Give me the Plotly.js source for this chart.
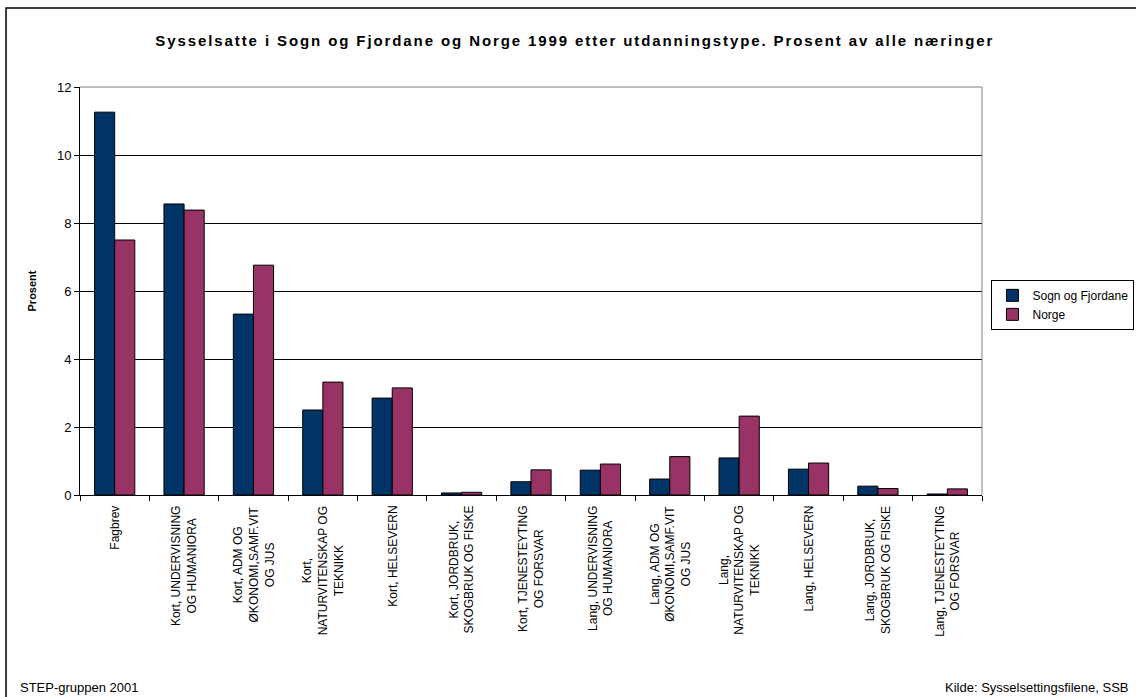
<!DOCTYPE html>
<html>
<head>
<meta charset="utf-8">
<script src="https://cdn.plot.ly/plotly-3.0.1.min.js"></script>
<style>
html,body{margin:0;padding:0;background:#fff;}
#chart{width:1136px;height:697px;}
.gtitle{letter-spacing:1.9px;}
</style>
</head>
<body>
<div id="chart"></div>
<script>
const categories = [
  "Fagbrev",
  "Kort, UNDERVISNING<br>OG HUMANIORA",
  "Kort, ADM OG<br>ØKONOMI,SAMF.VIT<br>OG JUS",
  "Kort,<br>NATURVITENSKAP OG<br>TEKNIKK",
  "Kort, HELSEVERN",
  "Kort, JORDBRUK,<br>SKOGBRUK OG FISKE",
  "Kort, TJENESTEYTING<br>OG FORSVAR",
  "Lang, UNDERVISNING<br>OG HUMANIORA",
  "Lang, ADM OG<br>ØKONOMI,SAMF.VIT<br>OG JUS",
  "Lang,<br>NATURVITENSKAP OG<br>TEKNIKK",
  "Lang, HELSEVERN",
  "Lang, JORDBRUK,<br>SKOGBRUK OG FISKE",
  "Lang, TJENESTEYTING<br>OG FORSVAR"
];
const sognValues  = [11.26, 8.56, 5.32, 2.50, 2.85, 0.06, 0.39, 0.73, 0.47, 1.09, 0.76, 0.26, 0.03];
const norgeValues = [7.50, 8.38, 6.76, 3.32, 3.15, 0.08, 0.74, 0.91, 1.13, 2.32, 0.94, 0.19, 0.18];
const yTicks = [0, 2, 4, 6, 8, 10, 12];

const data = [
  {type:'bar', name:'Sogn og Fjordane', x:categories, y:sognValues,
   marker:{color:'#003366', line:{color:'#000', width:1}}},
  {type:'bar', name:'Norge', x:categories, y:norgeValues,
   marker:{color:'#993366', line:{color:'#000', width:1}}}
];

const labelAnnotations = categories.map(c => ({
  text:c, x:c, xref:'x', y:0, yref:'paper', yshift:-9,
  xanchor:'center', yanchor:'top', textangle:-90, align:'center',
  showarrow:false, font:{size:12}
}));

const layout = {
  width:1136, height:697,
  paper_bgcolor:'#fff', plot_bgcolor:'#fff',
  font:{family:'Liberation Sans, Arial, sans-serif', color:'#000', size:12},
  margin:{l:80, r:154, t:87, b:202, autoexpand:false},
  title:{text:'<b>Sysselsatte i Sogn og Fjordane og Norge 1999 etter utdanningstype. Prosent av alle næringer</b>',
         font:{size:15, color:'#000'}, x:0.506, xanchor:'center', y:0.942, yanchor:'middle'},
  barmode:'group', bargap:0.42, bargroupgap:0,
  showlegend:true,
  legend:{x:1.0105, xanchor:'left', y:0.466, yanchor:'middle',
          bordercolor:'#000', borderwidth:1, bgcolor:'#fff',
          font:{size:12}, tracegroupgap:0, itemwidth:30},
  xaxis:{type:'category', showticklabels:false,
         showline:true, linecolor:'#000', linewidth:1,
         ticks:'outside', ticklen:5, tickcolor:'#000', tickson:'boundaries',
         showgrid:false, automargin:false},
  yaxis:{range:[0,12], tickvals:yTicks, ticktext:yTicks.map(String),
         showline:true, linecolor:'#000', linewidth:1,
         ticks:'outside', ticklen:5, tickcolor:'#000',
         showgrid:true, gridcolor:'#000', gridwidth:1, zeroline:false,
         tickfont:{size:13},
         title:{text:'<b>Prosent</b>', font:{size:11}, standoff:18}, automargin:false},
  shapes:[
    {type:'line', xref:'paper', yref:'paper', x0:1, x1:1, y0:0, y1:1,
     line:{color:'#808080', width:1}},
    {type:'line', xref:'paper', yref:'paper', x0:0, x1:1, y0:1, y1:1,
     line:{color:'#808080', width:1}},
    {type:'rect', xref:'paper', yref:'paper', x0:-0.0820, x1:1.3, y0:-0.52, y1:1.1936,
     line:{color:'#000', width:1.5}, layer:'below'}
  ],
  annotations:labelAnnotations.concat([
    {text:'STEP-gruppen 2001', xref:'paper', yref:'paper', x:-0.0687, y:-0.4706,
     xanchor:'left', yanchor:'middle', showarrow:false, font:{size:13}},
    {text:'Kilde: Sysselsettingsfilene, SSB', xref:'paper', yref:'paper', x:1.1652, y:-0.4706,
     xanchor:'right', yanchor:'middle', showarrow:false, font:{size:13}}
  ])
};

Plotly.newPlot('chart', data, layout, {displayModeBar:false, staticPlot:true});
</script>
</body>
</html>
